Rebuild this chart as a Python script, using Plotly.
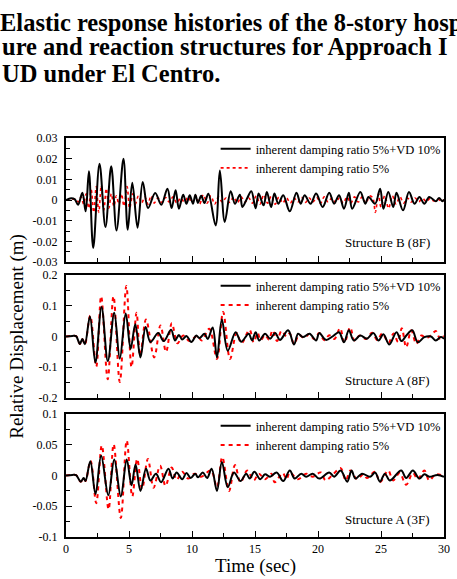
import plotly.graph_objects as go
from plotly.subplots import make_subplots

# ---------------- data ----------------
legend_vd = "inherent damping ratio 5%+VD 10%"
legend_5 = "inherent damping ratio 5%"
panel_names = ["Structure B (8F)", "Structure A (8F)", "Structure A (3F)"]

x_ticks = [0, 5, 10, 15, 20, 25, 30]
x_tick_labels = ["0", "5", "10", "15", "20", "25", "30"]

y1_ticks = [0.03, 0.02, 0.01, 0, -0.01, -0.02, -0.03]
y1_tick_labels = ["0.03", "0.02", "0.01", "0", "-0.01", "-0.02", "-0.03"]
y2_ticks = [0.2, 0.1, 0, -0.1, -0.2]
y2_tick_labels = ["0.2", "0.1", "0", "-0.1", "-0.2"]
y3_ticks = [0.1, 0.05, 0, -0.05, -0.1]
y3_tick_labels = ["0.1", "0.05", "0", "-0.05", "-0.1"]

# Structure B (8F) - with VD (black)
t_top_vd = [0, 0.4, 0.7, 0.96, 1.30, 1.56, 1.82, 2.16, 2.66, 3.13, 3.59, 4.01, 4.56, 4.90,
            5.26, 5.68, 6.09, 6.51, 7.08, 7.56, 8.05, 8.38, 8.70, 8.96, 9.30, 9.56, 9.82,
            10.08, 10.27, 10.47, 10.73, 10.99, 11.30, 11.875, 12.21, 12.60, 13.07, 13.41,
            13.80, 14.0, 14.35, 14.71, 15.05, 15.29, 15.68, 15.94, 16.28, 16.54, 16.85, 17.24,
            17.76, 18.29, 18.62, 18.94, 19.41, 19.85, 20.37, 20.89, 21.28, 21.67, 22.06,
            22.45, 22.71, 23.36, 23.75, 24.01, 24.53, 24.93, 25.19, 25.58, 25.97, 26.23,
            26.75, 27.22, 27.66, 28.05, 28.44, 28.83, 29.35, 29.61, 29.87, 30.0]
d_top_vd = [0, 0.0008, 0.0003, -0.0023, 0.0035, -0.0055, 0.0139, -0.0232, 0.0176, -0.0131,
            0.0163, -0.0147, 0.0200, -0.0144, 0.0084, -0.0134, 0.0087, -0.0039, 0.0034,
            -0.0023, 0.0055, -0.0039, 0.0047, -0.0042, 0.0026, -0.0018, 0.0023, -0.0018,
            0.0026, -0.0014, 0.0020, -0.0014, 0.0030, -0.0123, 0.0143, -0.0106, 0.0042,
            -0.0018, 0.0026, -0.0034, 0.0005, 0.0042, -0.0040, 0.0031, -0.0026, 0.0039,
            -0.0034, 0.0031, -0.0018, 0.0023, -0.0055, 0.0035, -0.0018, 0.0023, -0.0018,
            0.0031, -0.0034, 0.0035, -0.0018, 0.0023, -0.0042, 0.0035, -0.0042, 0.0039,
            -0.0018, 0.0015, -0.0018, 0.0055, -0.0042, 0.0039, -0.0034, 0.0035, -0.0050,
            0.0039, -0.0018, 0.0015, -0.0018, 0.0015, -0.0006, 0.0010, -0.0006, 0.0003]

# Structure B (8F) - 5% only (red)
t_top_5 = [0, 0.8, 1.0, 1.2, 1.4, 1.6, 1.8, 2.0, 2.2, 2.4, 2.6, 2.8, 3.0, 3.2, 3.4, 3.6, 3.8,
           4.0, 4.2, 4.4, 4.6, 4.85, 5.05, 5.3, 5.5, 5.75, 6.0, 6.25, 6.5, 6.75, 7.0, 7.3,
           7.6, 7.9, 8.2, 8.5, 8.8, 9.1, 9.4, 9.7, 10.0, 10.3, 10.6, 10.9, 11.2, 11.5, 11.8,
           12.1, 12.4, 12.7, 13.0, 13.3, 13.6, 13.9, 14.2, 14.5, 14.8, 15.1, 15.4, 15.7,
           16.0, 16.3, 16.6, 16.9, 17.2, 17.5, 17.8, 18.1, 18.4, 18.7, 19.0, 19.3, 19.6,
           19.9, 20.2, 20.5, 20.8, 21.1, 21.4, 21.7, 22.0, 22.3, 22.6, 22.9, 23.2, 23.5,
           23.8, 24.1, 24.35, 24.55, 24.8, 25.0, 25.3, 25.6, 25.9, 26.2, 26.5, 26.8, 27.1,
           27.4, 27.7, 28.0, 28.3, 28.6, 28.9, 29.2, 29.5, 29.8, 30.0]
d_top_5 = [0, 0.0003, -0.0010, 0.0015, -0.0020, 0.0030, -0.0040, 0.0050, -0.0060, 0.0065,
           -0.0060, 0.0070, -0.0050, 0.0055, -0.0040, 0.0030, -0.0030, 0.0020, -0.0020,
           0.0030, -0.0030, 0.0065, -0.0040, 0.0030, -0.0020, 0.0020, -0.0015, 0.0015,
           -0.0020, 0.0020, -0.0015, 0.0010, -0.0012, 0.0012, -0.0010, 0.0015, -0.0015,
           0.0010, -0.0010, 0.0015, -0.0015, 0.0020, -0.0020, 0.0025, -0.0015, 0.0020,
           -0.0020, 0.0015, -0.0010, 0.0010, -0.0012, 0.0015, -0.0015, 0.0015, -0.0010,
           0.0010, -0.0015, 0.0020, -0.0020, 0.0025, -0.0015, 0.0020, -0.0020, 0.0015,
           -0.0015, 0.0010, -0.0015, 0.0010, -0.0010, 0.0012, -0.0012, 0.0010, -0.0010,
           0.0012, -0.0015, 0.0015, -0.0010, 0.0010, -0.0012, 0.0010, -0.0015, 0.0015,
           -0.0015, 0.0015, -0.0010, 0.0015, -0.0015, 0.0020, 0.0010, -0.0060, 0.0030,
           -0.0035, 0.0020, -0.0040, 0.0020, -0.0020, 0.0015, -0.0015, 0.0010, -0.0010,
           0.0010, -0.0008, 0.0008, -0.0008, 0.0008, -0.0005, 0.0005, -0.0005, 0]

# Structure A (8F) - with VD (black)
t_mid_vd = [0, 0.5, 0.8, 1.1, 1.3, 1.5, 1.9, 2.33, 2.82, 3.32, 3.83, 4.27, 4.74, 5.13, 5.5,
            5.91, 6.32, 6.7, 7.32, 7.76, 8.34, 8.65, 8.96, 9.22, 9.56, 9.95, 10.34, 10.6,
            10.99, 11.25, 11.64, 11.98, 12.37, 12.84, 13.46, 13.9, 14.5, 14.76, 15.05, 15.34,
            15.8, 16.2, 16.6, 16.98, 17.63, 18.1, 18.42, 18.8, 19.33, 19.85, 20.1, 20.63,
            21.15, 21.67, 22.06, 22.45, 22.84, 23.36, 23.88, 24.4, 24.8, 25.19, 25.66,
            26.23, 26.62, 27.01, 27.48, 27.92, 28.44, 28.96, 29.35, 29.74, 30.0]
d_mid_vd = [0, 0.002, 0.001, -0.024, -0.008, -0.025, 0.065, -0.085, 0.096, -0.080, 0.077,
            -0.072, 0.075, -0.040, 0.040, -0.068, 0.031, -0.018, 0.011, -0.015, 0.022,
            -0.013, 0.005, -0.010, 0.002, -0.018, 0.003, -0.005, 0.009, -0.008, 0.029,
            -0.068, 0.055, -0.046, 0.014, -0.017, 0.009, -0.013, 0.014, -0.013, 0.009,
            -0.007, 0.011, -0.011, 0.020, -0.026, 0.009, -0.002, 0.009, -0.013, 0.011,
            -0.011, 0.000, 0.014, -0.019, 0.020, -0.013, 0.003, -0.007, 0.011, -0.013,
            0.007, -0.026, 0.014, -0.015, 0.003, 0.020, -0.019, -0.002, 0.000, -0.013,
            -0.002, -0.007]

# Structure A (8F) - 5% only (red)
t_mid_5 = [0, 0.5, 0.8, 1.1, 1.3, 1.5, 1.92, 2.4, 2.79, 3.31, 3.77, 4.27, 4.79, 5.2, 5.6,
           5.89, 6.35, 7.0, 7.5, 7.94, 8.4, 8.85, 9.3, 9.8, 10.4, 10.77, 11.37, 11.98, 12.47,
           13.02, 13.54, 13.93, 14.56, 14.9, 15.2, 15.45, 15.8, 16.1, 16.4, 16.75, 17.1,
           17.5, 17.75, 18.1, 18.5, 18.9, 19.3, 19.7, 20.1, 20.5, 20.9, 21.3, 21.75, 22.1,
           22.55, 22.9, 23.3, 23.8, 24.3, 24.7, 25.1, 25.6, 26.0, 26.35, 26.65, 27.0, 27.4,
           27.8, 28.2, 28.6, 29.0, 29.35, 29.7, 30.0]
d_mid_5 = [0, 0.002, 0.001, -0.024, -0.008, -0.026, 0.068, -0.098, 0.131, -0.139, 0.131,
           -0.148, 0.164, -0.100, 0.077, -0.062, 0.055, -0.068, 0.036, -0.050, 0.043,
           -0.022, 0.003, -0.015, 0.002, -0.013, 0.025, -0.073, 0.080, -0.073, 0.011,
           -0.022, 0.022, -0.019, 0.012, -0.012, 0.005, -0.010, 0.020, -0.015, 0.018,
           0.000, 0.010, -0.024, 0.005, -0.005, 0.008, -0.008, 0.011, -0.012, 0.004,
           -0.008, 0.027, -0.020, 0.030, -0.013, 0.003, -0.008, 0.012, -0.012, 0.010,
           -0.020, 0.010, -0.018, 0.027, -0.035, 0.020, -0.024, 0.003, -0.005, 0.005,
           0.018, -0.008, 0.002]

# Structure A (3F) - with VD (black)
t_bot_vd = [0, 0.5, 0.8, 1.17, 1.4, 1.55, 1.93, 2.34, 2.79, 3.36, 3.83, 4.35, 4.82, 5.2,
            5.52, 5.91, 6.35, 6.7, 7.14, 7.55, 8.13, 8.46, 8.78, 9.22, 9.56, 9.9, 10.26,
            10.47, 10.86, 11.2, 11.56, 11.98, 12.37, 12.84, 13.33, 13.85, 14.3, 14.58,
            14.95, 15.42, 15.8, 16.2, 16.72, 17.24, 17.76, 18.15, 18.67, 19.06, 19.58, 20.1,
            20.89, 21.28, 21.8, 22.32, 22.66, 22.97, 23.49, 24.14, 24.53, 24.92, 25.31, 25.7,
            26.6, 27.0, 27.53, 28.05, 28.44, 28.83, 29.48, 30.0]
d_bot_vd = [0, 0.001, 0.0005, -0.010, -0.004, -0.009, 0.023, -0.030, 0.032, -0.032, 0.026,
            -0.034, 0.026, -0.016, 0.018, -0.025, 0.011, -0.008, 0.003, -0.011, 0.011,
            -0.005, 0.005, -0.006, 0.004, -0.004, 0.003, -0.003, 0.005, -0.004, 0.011,
            -0.025, 0.022, -0.019, 0.005, -0.009, 0.003, -0.005, 0.006, -0.006, 0.002,
            -0.002, 0.005, -0.009, 0.008, -0.005, 0.003, -0.002, 0.003, -0.005, 0.005,
            -0.002, 0.008, -0.010, 0.008, -0.005, 0.003, -0.002, 0.005, -0.010, 0.003,
            -0.008, 0.008, -0.004, 0.008, -0.005, 0.002, -0.002, 0.001, -0.002]

# Structure A (3F) - 5% only (red)
t_bot_5 = [0, 0.5, 0.8, 1.17, 1.4, 1.55, 1.95, 2.4, 2.84, 3.38, 3.78, 4.35, 4.82, 5.26,
           5.65, 6.04, 6.5, 6.95, 7.47, 7.9, 8.39, 8.78, 9.22, 9.69, 10.2, 10.73, 11.5,
           11.98, 12.4, 12.94, 13.41, 13.85, 14.38, 14.9, 15.3, 15.8, 16.3, 16.56, 17.2,
           17.5, 17.76, 18.4, 19.06, 19.58, 20.23, 20.6, 21.2, 21.8, 22.2, 22.58, 23.1,
           23.6, 23.88, 24.53, 24.92, 25.57, 25.96, 26.48, 27.0, 27.53, 27.92, 28.44, 28.83,
           29.35, 30.0]
d_bot_5 = [0, 0.001, 0.0005, -0.010, -0.004, -0.009, 0.024, -0.045, 0.049, -0.055, 0.051,
           -0.069, 0.057, -0.034, 0.027, -0.022, 0.027, -0.020, 0.016, -0.017, 0.013,
           -0.007, 0.006, -0.005, 0.003, -0.002, 0.008, -0.019, 0.030, -0.025, 0.017,
           -0.011, 0.008, -0.008, 0.003, -0.006, 0.003, -0.011, 0.004, -0.006, 0.005,
           -0.006, 0.003, -0.002, 0.005, -0.008, 0.002, 0.012, -0.008, 0.008, -0.006,
           0.002, -0.004, 0.006, -0.011, 0.008, -0.008, 0.004, -0.015, 0.004, -0.006,
           0.008, -0.008, 0.002, -0.001]

title_lines = ["Elastic response histories of the 8-story hosp",
               "ure and reaction structures for Approach I",
               "UD under El Centro."]

# ---------------- figure ----------------
SERIF = "Liberation Serif, Times New Roman, serif"
BLACK = "#000000"
RED = "#ff0000"

fig = make_subplots(rows=3, cols=1)

panels = [
    (t_top_vd, d_top_vd, t_top_5, d_top_5, "dot", 1.6, "legend"),
    (t_mid_vd, d_mid_vd, t_mid_5, d_mid_5, "4px,4px", 2.0, "legend2"),
    (t_bot_vd, d_bot_vd, t_bot_5, d_bot_5, "4px,4px", 2.0, "legend3"),
]
for i, (tb, db, tr, dr, rdash, rw, leg) in enumerate(panels, start=1):
    # red drawn first so the black trace lies on top; legend order fixed by legendrank
    fig.add_trace(go.Scatter(x=tr, y=dr, mode="lines", name=legend_5, legend=leg,
                             legendrank=2,
                             line=dict(color=RED, width=rw, dash=rdash, shape="spline",
                                       smoothing=1)),
                  row=i, col=1)
    fig.add_trace(go.Scatter(x=tb, y=db, mode="lines", name=legend_vd, legend=leg,
                             legendrank=1,
                             line=dict(color=BLACK, width=2, shape="spline", smoothing=1)),
                  row=i, col=1)

H_PLOT = 399.0
def dom(top_px, bot_px):
    return [(537 - bot_px) / H_PLOT, (537 - top_px) / H_PLOT]

axis_common = dict(showline=True, linecolor=BLACK, linewidth=2, mirror=True,
                   ticks="inside", ticklen=6, tickwidth=1.2, tickcolor=BLACK,
                   showgrid=False, zeroline=False,
                   tickfont=dict(family=SERIF, size=12, color=BLACK))

y_specs = [(y1_ticks, y1_tick_labels, 0.005, [-0.03, 0.03], dom(138, 262)),
           (y2_ticks, y2_tick_labels, 0.05, [-0.2, 0.2], dom(275, 398)),
           (y3_ticks, y3_tick_labels, 0.025, [-0.1, 0.1], dom(414, 537))]
for i, (tv, tt, mdt, rng, d) in enumerate(y_specs, start=1):
    fig.update_yaxes(range=rng, tickmode="array", tickvals=tv, ticktext=tt,
                     domain=d, ticklabelstandoff=4,
                     minor=dict(ticks="inside", ticklen=4, tickwidth=1.2, tickcolor=BLACK,
                                tickmode="linear", tick0=0, dtick=mdt, showgrid=False),
                     row=i, col=1, **axis_common)
    fig.update_xaxes(range=[0, 30], tickmode="array", tickvals=x_ticks,
                     ticktext=x_tick_labels, showticklabels=(i == 3),
                     minor=dict(ticks="inside", ticklen=4, tickwidth=1.2, tickcolor=BLACK,
                                tickmode="linear", tick0=0, dtick=2.5, showgrid=False),
                     row=i, col=1, **axis_common)

leg_common = dict(bgcolor="rgba(0,0,0,0)", borderwidth=0, xanchor="left", yanchor="top",
                  font=dict(family=SERIF, size=12.5, color=BLACK), tracegroupgap=0,
                  itemclick=False)
leg_x = (218 - 66) / 384.0
fig.update_layout(
    legend=dict(x=leg_x, y=(537 - 134) / H_PLOT, **leg_common),
    legend2=dict(x=leg_x, y=(537 - 271) / H_PLOT, **leg_common),
    legend3=dict(x=leg_x, y=(537 - 411) / H_PLOT, **leg_common),
)

annotations = []
for name, ypx in zip(panel_names, [242, 380, 519]):
    annotations.append(dict(text=name, xref="paper", yref="paper", x=(438 - 66) / 384.0,
                            y=(537 - ypx) / H_PLOT, xanchor="right", yanchor="middle",
                            showarrow=False, font=dict(family=SERIF, size=13, color=BLACK)))
annotations.append(dict(text="Relative Displacement (m)", xref="paper", yref="paper",
                        x=(16 - 66) / 384.0, y=(537 - 336) / H_PLOT, textangle=-90,
                        xanchor="center", yanchor="middle", showarrow=False,
                        font=dict(family=SERIF, size=19, color=BLACK)))
annotations.append(dict(text="Time (sec)", xref="paper", yref="paper",
                        x=(258 - 66) / 384.0, y=(537 - 566) / H_PLOT,
                        xanchor="center", yanchor="middle", showarrow=False,
                        font=dict(family=SERIF, size=19, color=BLACK)))
for line, ypx, x0 in zip(title_lines, [22, 47, 73], [-3, -1, -1]):
    annotations.append(dict(text="<b>" + line + "</b>", xref="paper", yref="paper",
                            x=(x0 - 66) / 384.0, y=(537 - ypx) / H_PLOT,
                            xanchor="left", yanchor="middle", showarrow=False,
                            font=dict(family=SERIF, size=24.5, color=BLACK)))

fig.update_layout(width=457, height=579, margin=dict(l=66, r=7, t=138, b=42),
                  paper_bgcolor="white", plot_bgcolor="white", showlegend=True,
                  annotations=annotations)

fig.write_html("out.html", config={"displayModeBar": False},
               post_script="document.body.style.margin='0px';"
                           "document.documentElement.style.overflow='hidden';")
